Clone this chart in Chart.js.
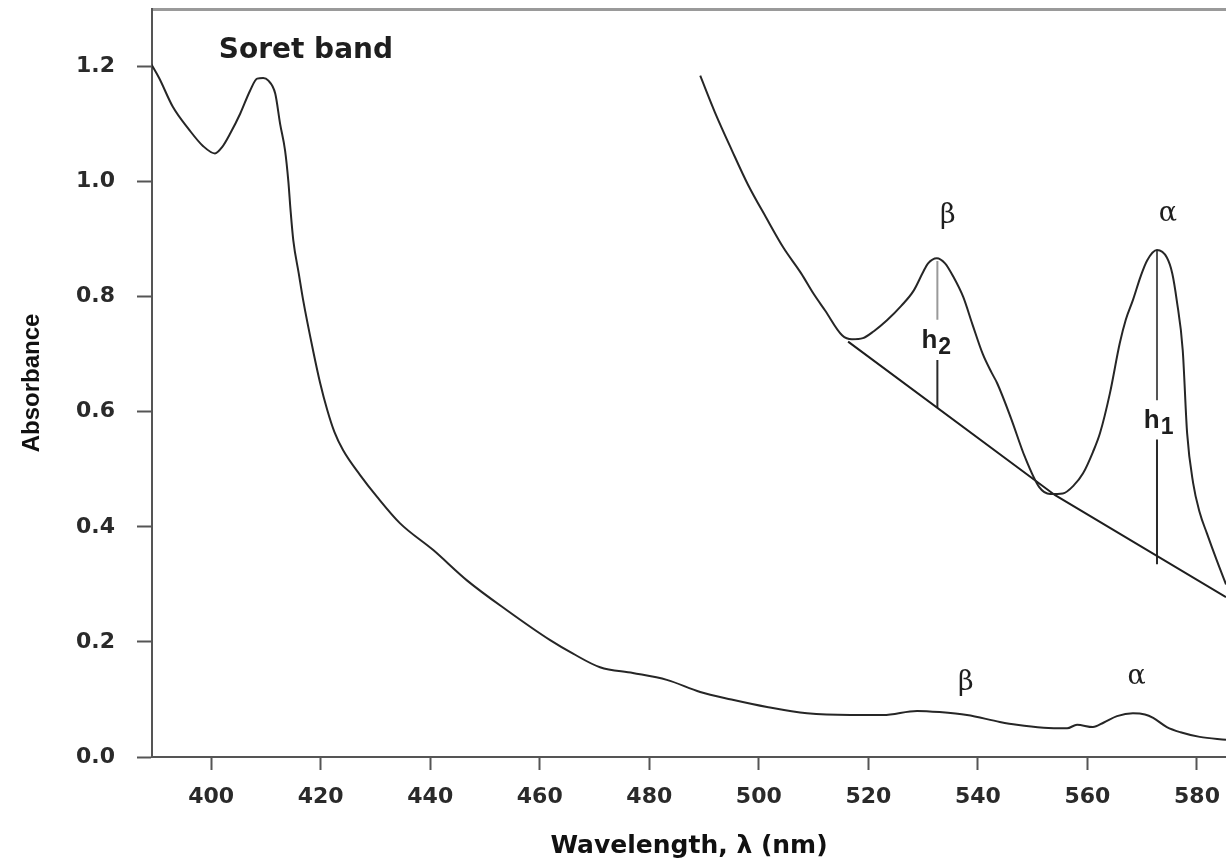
<!DOCTYPE html>
<html>
<head>
<meta charset="utf-8">
<script src="https://cdn.jsdelivr.net/npm/chart.js@4.4.1/dist/chart.umd.min.js"></script>
<style>
  html, body { margin: 0; padding: 0; background: #fff; }
  #wrap { position: relative; width: 1226px; height: 861px; }
</style>
</head>
<body>
<div id="wrap"><canvas id="spectrum"></canvas></div>
<script>
// full spectrum: wavelength (nm) and absorbance
const wavelength = [389.0, 390.5, 393.0, 396.0, 398.5, 400.7, 402.0, 403.5, 405.3, 407.1, 408.4, 409.5, 410.4, 411.7,
  412.6, 413.5, 414.1, 414.5, 415.0, 416.0, 416.8, 418.6, 419.9, 421.2, 422.5, 424.1, 427.2, 430.3, 434.5, 440.5,
  446.7, 454.0, 461.9, 466.0, 471.0, 477.0, 483.2, 489.3, 495.0, 501.5, 508.8, 516.7, 522.7, 528.9, 533.0, 538.0,
  544.0, 547.1, 552.0, 556.3, 558.1, 561.0, 563.0, 565.4, 568.3, 570.5, 572.0, 574.5, 577.0, 580.5, 585.3];
const absorbance = [1.205, 1.180, 1.130, 1.090, 1.062, 1.049, 1.060, 1.084, 1.118, 1.158, 1.179, 1.180, 1.176, 1.153,
  1.100, 1.054, 1.000, 0.950, 0.898, 0.840, 0.794, 0.707, 0.650, 0.603, 0.565, 0.533, 0.490, 0.452, 0.406, 0.360,
  0.307, 0.255, 0.203, 0.180, 0.156, 0.146, 0.134, 0.113, 0.100, 0.087, 0.076, 0.073, 0.073, 0.080, 0.078, 0.073,
  0.061, 0.056, 0.051, 0.050, 0.056, 0.052, 0.060, 0.071, 0.076, 0.074, 0.068, 0.052, 0.043, 0.035, 0.030];

// magnified Q-band region drawn over the plot
const zoomWavelength = [489.3, 492.0, 495.1, 498.0, 501.3, 504.5, 507.7, 510.0, 512.1, 515.2, 517.0, 519.0, 521.0,
  523.4, 526.0, 528.3, 530.0, 530.9, 532.5, 534.0, 535.5, 537.3, 539.0, 540.9, 542.5, 543.5, 546.0, 548.6, 551.2,
  553.2, 555.5, 557.5, 559.2, 561.0, 562.3, 564.1, 565.9, 567.0, 568.3, 569.7, 570.9, 572.7, 574.5, 575.5, 576.3,
  577.4, 578.2, 579.3, 580.5, 581.8, 583.6, 585.3];
const zoomAbsorbance = [1.184, 1.120, 1.054, 0.995, 0.938, 0.885, 0.841, 0.805, 0.776, 0.733, 0.726, 0.728, 0.740,
  0.759, 0.784, 0.811, 0.843, 0.858, 0.867, 0.858, 0.835, 0.800, 0.752, 0.700, 0.668, 0.650, 0.590, 0.521, 0.469,
  0.457, 0.458, 0.472, 0.493, 0.530, 0.563, 0.632, 0.719, 0.760, 0.794, 0.835, 0.863, 0.881, 0.868, 0.840, 0.794,
  0.707, 0.563, 0.476, 0.425, 0.389, 0.342, 0.300];

// tangent baseline under the bands
const baseWavelength = [516.3, 554.1, 585.3];
const baseAbsorbance = [0.722, 0.455, 0.278];

// peak height markers h2 (beta) and h1 (alpha)
const h2Wavelength = 532.6;
const h2Upper = [0.862, 0.760];
const h2Lower = [0.690, 0.607];
const h1Wavelength = 572.7;
const h1Upper = [0.881, 0.620];
const h1Lower = [0.552, 0.335];

const xTicks = [400, 420, 440, 460, 480, 500, 520, 540, 560, 580];
const yTicks = [0.0, 0.2, 0.4, 0.6, 0.8, 1.0, 1.2];

// text annotations
const bandLabels = [
  { text: 'Soret band', x: 417.3, y: 1.228, font: 'bold 28px "DejaVu Sans"' },
  { text: 'β', x: 534.5, y: 0.940, font: '27px "DejaVu Serif"' },
  { text: 'α', x: 574.7, y: 0.943, font: '27px "DejaVu Serif"' },
  { text: 'β', x: 537.8, y: 0.129, font: '27px "DejaVu Serif"' },
  { text: 'α', x: 569.0, y: 0.139, font: '27px "DejaVu Serif"' },
  { text: 'h', sub: '2', x: 532.3, y: 0.724, font: 'bold 26px "Liberation Sans"' },
  { text: 'h', sub: '1', x: 572.9, y: 0.585, font: 'bold 26px "Liberation Sans"' }
];

const xMin = 389.2, xMax = 585.3;
const toPoints = (xs, ys) => xs.map((v, i) => ({ x: v, y: ys[i] }));
const vLine = (x, ys) => ys.map(v => ({ x: x, y: v }));

const lineStyle = (data, color, width, smooth) => ({
  data: data,
  borderColor: color,
  borderWidth: width,
  pointRadius: 0,
  cubicInterpolationMode: smooth ? 'monotone' : 'default',
  tension: 0,
  fill: false
});

// drop the automatic label padding so the plot area sits where the axes say
const noPadding = s => {
  s.paddingTop = 0; s.paddingBottom = 0; s.paddingLeft = 0; s.paddingRight = 0;
};

const labelPlugin = {
  id: 'bandLabels',
  afterDatasetsDraw(chart) {
    const { ctx, scales: { x, y } } = chart;
    ctx.save();
    ctx.textBaseline = 'middle';
    ctx.fillStyle = '#1e1e1e';
    bandLabels.forEach(l => {
      const px = x.getPixelForValue(l.x);
      const py = y.getPixelForValue(l.y);
      ctx.font = l.font;
      if (!l.sub) {
        ctx.textAlign = 'center';
        ctx.fillText(l.text, px, py);
        return;
      }
      const hw = ctx.measureText(l.text).width;
      ctx.font = 'bold 23px "Liberation Sans"';
      const sw = ctx.measureText(l.sub).width;
      const start = px - (hw + sw) / 2;
      ctx.textAlign = 'left';
      ctx.fillText(l.sub, start + hw + 1, py + 7);
      ctx.font = l.font;
      ctx.fillText(l.text, start, py);
    });
    ctx.restore();
  }
};

new Chart(document.getElementById('spectrum'), {
  type: 'line',
  data: {
    datasets: [
      lineStyle(toPoints(wavelength, absorbance), '#262626', 2, true),
      lineStyle(toPoints(zoomWavelength, zoomAbsorbance), '#262626', 2, true),
      lineStyle(toPoints(baseWavelength, baseAbsorbance), '#1e1e1e', 2, false),
      lineStyle(vLine(h2Wavelength, h2Upper), '#9a9a9a', 2, false),
      lineStyle(vLine(h2Wavelength, h2Lower), '#2a2a2a', 2, false),
      lineStyle(vLine(h1Wavelength, h1Upper), '#555555', 2, false),
      lineStyle(vLine(h1Wavelength, h1Lower), '#2a2a2a', 2, false)
    ]
  },
  options: {
    responsive: true,
    maintainAspectRatio: false,
    animation: false,
    events: [],
    layout: { padding: 0 },
    plugins: { legend: { display: false }, tooltip: { enabled: false } },
    scales: {
      x: {
        type: 'linear',
        position: 'bottom',
        min: xMin,
        max: xMax,
        afterBuildTicks: s => { s.ticks = xTicks.map(v => ({ value: v })); },
        afterFit: s => { s.height = 104; noPadding(s); },
        grid: { display: true, drawOnChartArea: false, tickLength: 13, tickWidth: 2, tickColor: '#555' },
        border: { display: true, color: '#555', width: 2 },
        ticks: {
          color: '#2a2a2a',
          font: { family: 'DejaVu Sans', size: 22, weight: 'bold' },
          padding: 14,
          maxRotation: 0,
          autoSkip: false,
          callback: v => v
        },
        title: {
          display: true,
          text: 'Wavelength, λ (nm)',
          color: '#111',
          font: { family: 'DejaVu Sans', size: 25, weight: 'bold' },
          padding: { top: 0, bottom: 0 }
        }
      },
      xTop: {
        type: 'linear',
        position: 'top',
        min: xMin,
        max: xMax,
        afterFit: s => { s.height = 9; noPadding(s); },
        ticks: { display: false },
        grid: { display: false, drawTicks: false },
        border: { display: true, color: '#9a9a9a', width: 3 }
      },
      y: {
        type: 'linear',
        min: 0,
        max: 1.3,
        afterBuildTicks: s => { s.ticks = yTicks.map(v => ({ value: v })); },
        afterFit: s => { s.width = 152; noPadding(s); },
        grid: { display: true, drawOnChartArea: false, tickLength: 15, tickWidth: 2, tickColor: '#555' },
        border: { display: true, color: '#555', width: 2 },
        ticks: {
          color: '#2a2a2a',
          font: { family: 'DejaVu Sans', size: 22, weight: 'bold' },
          padding: 22,
          callback: v => v.toFixed(1)
        },
        title: {
          display: true,
          text: 'Absorbance',
          color: '#111',
          font: { family: 'Liberation Sans', size: 24, weight: 'bold' },
          padding: { top: 18, bottom: 0 }
        }
      }
    }
  },
  plugins: [labelPlugin]
});
</script>
</body>
</html>
